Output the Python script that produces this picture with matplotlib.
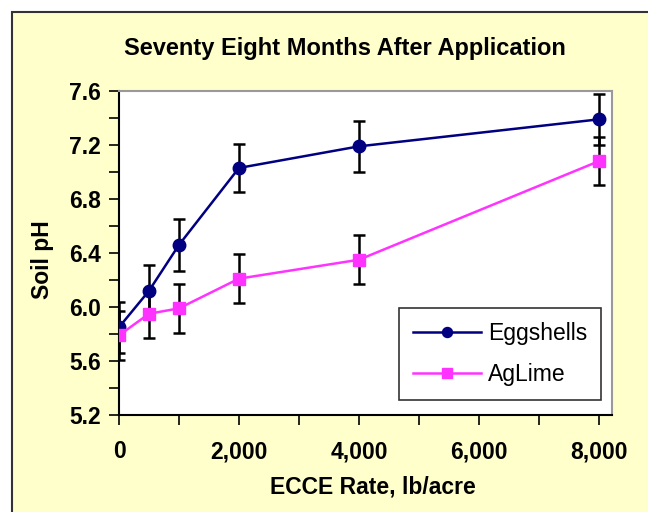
import matplotlib.pyplot as plt
from matplotlib.patches import Rectangle
from matplotlib.ticker import MultipleLocator, FuncFormatter

plt.rcParams['font.family'] = ['Liberation Sans', 'DejaVu Sans']

# data
rates = [0, 500, 1000, 2000, 4000, 8000]
eggshells = [5.85, 6.12, 6.46, 7.03, 7.19, 7.39]
eggshells_err = [0.19, 0.19, 0.19, 0.18, 0.19, 0.19]
aglime = [5.79, 5.95, 5.99, 6.21, 6.35, 7.08]
aglime_err = [0.18, 0.18, 0.18, 0.18, 0.18, 0.18]

bg = '#FFFFCC'
W, H = 648, 512

fig = plt.figure(figsize=(6.48, 5.12), dpi=100)
fig.patch.set_facecolor('white')
# yellow chart area with dark border
fig.patches.append(Rectangle((12/W, -0.05), 1.0, 1 - 12/H + 0.05,
                             transform=fig.transFigure, facecolor=bg,
                             edgecolor='#333333', linewidth=1.5, zorder=-10))

ax = fig.add_axes([119/W, 1 - 415/H, (612 - 119)/W, (415 - 91)/H])
ax.set_facecolor('white')

ax.errorbar(rates, eggshells, yerr=eggshells_err, color='#000080', marker='o',
            markersize=9, linewidth=1.8, ecolor='black', elinewidth=1.8,
            capsize=4, capthick=1.8, label='Eggshells', zorder=3)
ax.errorbar(rates, aglime, yerr=aglime_err, color='#FF33FF', marker='s',
            markersize=9, linewidth=1.8, ecolor='black', elinewidth=1.8,
            capsize=4, capthick=1.8, label='AgLime', zorder=3)

ax.set_xlim(0, 8220)
ax.set_ylim(5.2, 7.6)
ax.xaxis.set_major_locator(MultipleLocator(2000))
ax.xaxis.set_minor_locator(MultipleLocator(1000))
ax.yaxis.set_major_locator(MultipleLocator(0.4))
ax.yaxis.set_minor_locator(MultipleLocator(0.2))
ax.xaxis.set_major_formatter(FuncFormatter(lambda v, p: f'{int(v):,}'))
ax.yaxis.set_major_formatter(FuncFormatter(lambda v, p: f'{v:.1f}'))
ax.tick_params(axis='both', which='both', direction='out', width=1.2,
               length=7, labelsize=16.5)
ax.tick_params(axis='x', which='major', pad=11)
ax.tick_params(axis='y', which='major', pad=6)
for lab in ax.get_xticklabels() + ax.get_yticklabels():
    lab.set_fontweight('bold')

for s in ['left', 'bottom']:
    ax.spines[s].set_color('black')
    ax.spines[s].set_linewidth(1.5)
for s in ['top', 'right']:
    ax.spines[s].set_color('#999999')
    ax.spines[s].set_linewidth(1.5)

fig.text(373/W, 1 - 487/H, 'ECCE Rate, lb/acre', ha='center', va='center',
         fontsize=16.5, fontweight='bold')
fig.text(42/W, 1 - 260/H, 'Soil pH', ha='center', va='center', rotation=90,
         fontsize=16.5, fontweight='bold')
fig.text(345/W, 1 - 49/H, 'Seventy Eight Months After Application',
         ha='center', va='center', fontsize=17, fontweight='bold')

handles, labels = ax.get_legend_handles_labels()
handles = [h[0] for h in handles]
leg = ax.legend(handles, labels, loc='lower right', bbox_to_anchor=(0.978, 0.046),
                borderaxespad=0, fontsize=16.5, frameon=True, fancybox=False,
                edgecolor='black', handlelength=3.0, handletextpad=0.3,
                labelspacing=0.8, borderpad=0.6, markerscale=0.8)
leg.get_frame().set_linewidth(1.2)

fig.savefig('out.png', dpi=100, facecolor=fig.get_facecolor())
